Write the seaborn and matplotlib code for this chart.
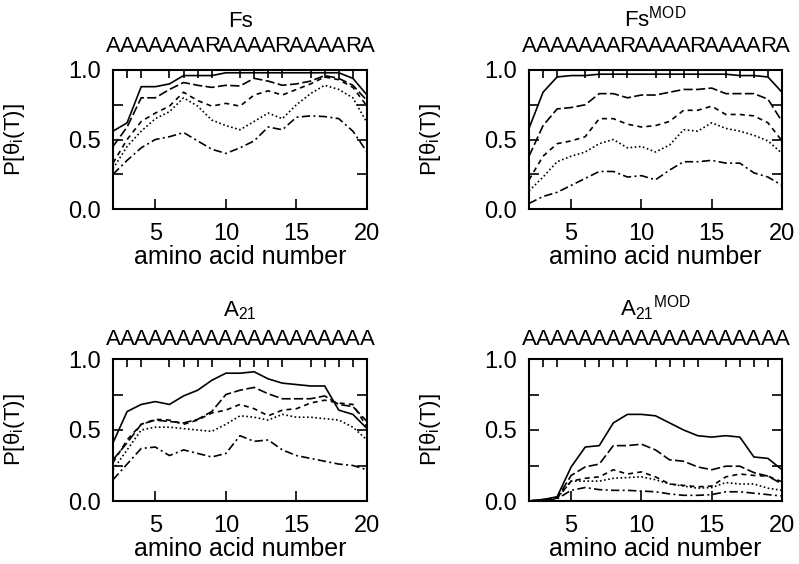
import numpy as np
import pandas as pd
import matplotlib
matplotlib.use('Agg')
import matplotlib.pyplot as plt
import matplotlib.transforms as mtransforms
from matplotlib.ticker import MultipleLocator, FixedLocator
import seaborn as sns

# residue positions shown on the x axis
residue = list(range(2, 21))

# Fs  (five curves, top to bottom)
fs_1 = [0.56, 0.62, 0.88, 0.88, 0.90, 0.96, 0.96, 0.96, 0.98, 0.98, 0.98, 0.98, 0.98, 0.98, 0.98, 0.98, 0.98, 0.94, 0.82]
fs_2 = [0.45, 0.59, 0.80, 0.80, 0.86, 0.91, 0.89, 0.875, 0.89, 0.885, 0.94, 0.92, 0.89, 0.90, 0.92, 0.96, 0.94, 0.89, 0.78]
fs_3 = [0.33, 0.50, 0.63, 0.69, 0.74, 0.84, 0.78, 0.74, 0.76, 0.74, 0.82, 0.85, 0.82, 0.86, 0.90, 0.95, 0.93, 0.875, 0.74]
fs_4 = [0.29, 0.45, 0.56, 0.65, 0.70, 0.80, 0.74, 0.64, 0.60, 0.57, 0.63, 0.69, 0.65, 0.75, 0.83, 0.89, 0.86, 0.80, 0.62]
fs_5 = [0.25, 0.35, 0.44, 0.50, 0.52, 0.55, 0.49, 0.43, 0.40, 0.44, 0.49, 0.59, 0.57, 0.66, 0.67, 0.665, 0.65, 0.56, 0.41]

# Fs^MOD
fsmod_1 = [0.58, 0.84, 0.95, 0.96, 0.96, 0.97, 0.97, 0.97, 0.97, 0.97, 0.97, 0.97, 0.97, 0.97, 0.97, 0.96, 0.96, 0.95, 0.84]
fsmod_2 = [0.38, 0.60, 0.72, 0.73, 0.75, 0.83, 0.83, 0.80, 0.82, 0.82, 0.84, 0.86, 0.86, 0.87, 0.83, 0.83, 0.83, 0.79, 0.63]
fsmod_3 = [0.21, 0.38, 0.47, 0.49, 0.52, 0.65, 0.65, 0.61, 0.59, 0.60, 0.63, 0.71, 0.71, 0.74, 0.68, 0.68, 0.67, 0.62, 0.49]
fsmod_4 = [0.13, 0.23, 0.34, 0.38, 0.41, 0.47, 0.50, 0.44, 0.45, 0.41, 0.46, 0.57, 0.56, 0.62, 0.58, 0.56, 0.53, 0.49, 0.40]
fsmod_5 = [0.04, 0.09, 0.12, 0.17, 0.22, 0.27, 0.27, 0.23, 0.24, 0.21, 0.28, 0.34, 0.34, 0.35, 0.33, 0.33, 0.26, 0.23, 0.17]

# A21
a21_1 = [0.41, 0.63, 0.68, 0.70, 0.68, 0.74, 0.78, 0.85, 0.90, 0.90, 0.91, 0.86, 0.83, 0.82, 0.81, 0.81, 0.64, 0.61, 0.51]
a21_2 = [0.29, 0.41, 0.54, 0.57, 0.56, 0.55, 0.575, 0.63, 0.75, 0.78, 0.80, 0.755, 0.72, 0.72, 0.72, 0.74, 0.68, 0.665, 0.56]
a21_3 = [0.27, 0.43, 0.54, 0.575, 0.57, 0.54, 0.57, 0.62, 0.64, 0.68, 0.65, 0.60, 0.64, 0.65, 0.69, 0.71, 0.69, 0.68, 0.52]
a21_4 = [0.22, 0.36, 0.50, 0.52, 0.52, 0.51, 0.50, 0.49, 0.54, 0.60, 0.59, 0.57, 0.61, 0.59, 0.59, 0.58, 0.57, 0.52, 0.43]
a21_5 = [0.15, 0.26, 0.37, 0.38, 0.32, 0.36, 0.335, 0.31, 0.335, 0.46, 0.42, 0.43, 0.36, 0.32, 0.30, 0.28, 0.26, 0.25, 0.22]

# A21^MOD
a21mod_1 = [0.0, 0.01, 0.03, 0.24, 0.38, 0.39, 0.55, 0.61, 0.61, 0.60, 0.55, 0.50, 0.46, 0.45, 0.46, 0.45, 0.31, 0.30, 0.22]
a21mod_2 = [0.0, 0.01, 0.02, 0.18, 0.24, 0.26, 0.39, 0.39, 0.40, 0.36, 0.29, 0.28, 0.24, 0.22, 0.245, 0.245, 0.20, 0.175, 0.12]
a21mod_3 = [0.0, 0.01, 0.02, 0.14, 0.16, 0.17, 0.22, 0.19, 0.205, 0.17, 0.12, 0.11, 0.10, 0.105, 0.17, 0.19, 0.18, 0.175, 0.135]
a21mod_4 = [0.0, 0.005, 0.02, 0.14, 0.14, 0.14, 0.16, 0.165, 0.17, 0.15, 0.12, 0.105, 0.09, 0.095, 0.13, 0.12, 0.12, 0.09, 0.075]
a21mod_5 = [0.0, 0.0, 0.015, 0.075, 0.095, 0.08, 0.075, 0.075, 0.07, 0.065, 0.05, 0.04, 0.04, 0.045, 0.065, 0.065, 0.055, 0.045, 0.035]

titles = ['Fs', r'Fs$^{\mathrm{MOD}}$', r'A$_{21}$', r'A$_{21}$$^{\mathrm{MOD}}$']
sequences = ['AAAAAAARAAAARAAAARA', 'AAAAAAARAAAARAAAARA',
             'AAAAAAAAAAAAAAAAAAA', 'AAAAAAAAAAAAAAAAAAA']
panels = [[fs_1, fs_2, fs_3, fs_4, fs_5],
          [fsmod_1, fsmod_2, fsmod_3, fsmod_4, fsmod_5],
          [a21_1, a21_2, a21_3, a21_4, a21_5],
          [a21mod_1, a21mod_2, a21mod_3, a21mod_4, a21mod_5]]

curve_names = ['c1', 'c2', 'c3', 'c4', 'c5']
dash_map = {'c1': '', 'c2': (5.5, 2.0), 'c3': (3.0, 2.5), 'c4': (1.0, 1.5), 'c5': (5.0, 2.0, 1.2, 2.0)}

sns.set_style('ticks')
plt.rcParams['font.family'] = ['Liberation Sans', 'DejaVu Sans']
plt.rcParams['mathtext.fontset'] = 'custom'
plt.rcParams['mathtext.rm'] = 'Liberation Sans'
plt.rcParams['mathtext.it'] = 'Liberation Sans:italic'
plt.rcParams['text.color'] = 'black'
plt.rcParams['axes.labelcolor'] = 'black'
plt.rcParams['xtick.color'] = 'black'
plt.rcParams['ytick.color'] = 'black'

fig = plt.figure(figsize=(7.99, 5.64), dpi=100)
W, H = 799, 564
boxes = [(113, 70, 254, 139), (529, 70, 253, 139),
         (113, 359, 254, 142), (529, 359, 253, 142)]

for k, (px, py, pw, ph) in enumerate(boxes):
    ax = fig.add_axes([px / W, 1 - (py + ph) / H, pw / W, ph / H])
    rows = []
    for name, vals in zip(curve_names, panels[k]):
        rows.append(pd.DataFrame({'residue': residue, 'P': vals, 'curve': name}))
    df = pd.concat(rows, ignore_index=True)
    sns.lineplot(data=df, x='residue', y='P', style='curve', dashes=dash_map,
                 color='black', lw=1.2, legend=False, ax=ax)

    ax.set_xlim(2, 20)
    ax.set_ylim(0, 1)
    ax.xaxis.set_major_locator(FixedLocator([5, 10, 15, 20]))
    ax.xaxis.set_minor_locator(MultipleLocator(1))
    ax.yaxis.set_major_locator(FixedLocator([0, 0.5, 1.0]))
    ax.yaxis.set_minor_locator(FixedLocator([0.25, 0.75]))
    ax.set_yticklabels(['0.0', '0.5', '1.0'])
    ax.tick_params(axis='x', which='major', direction='in', bottom=True, top=False,
                   length=7, width=1.2, pad=10, labelsize=17)
    ax.tick_params(axis='x', which='minor', direction='in', bottom=False, top=True,
                   length=6, width=1.2)
    ax.tick_params(axis='y', which='both', direction='in', left=True, right=True,
                   length=7, width=1.2, pad=9, labelsize=17)
    for s in ax.spines.values():
        s.set_linewidth(1.5)
        s.set_color('black')

    ax.set_xlabel('amino acid number', fontsize=18, labelpad=0)
    ax.set_ylabel(r'P[θ$_{\mathrm{i}}$(T)]', fontsize=16)
    ax.yaxis.set_label_coords(-86 / pw, 0.5)

    # sequence letters, one per residue
    trans = mtransforms.blended_transform_factory(ax.transData, ax.transAxes)
    seq_y = 1 + (18 if k < 2 else 14) / ph
    for pos, letter in zip(residue, sequences[k]):
        ax.text(pos, seq_y, letter, transform=trans, ha='center', va='baseline',
                fontsize=16, clip_on=False)
    ax.text(0.5, 1 + 43 / ph, titles[k], transform=ax.transAxes, ha='center',
            va='baseline', fontsize=16)

fig.savefig('out.png', dpi=100)
